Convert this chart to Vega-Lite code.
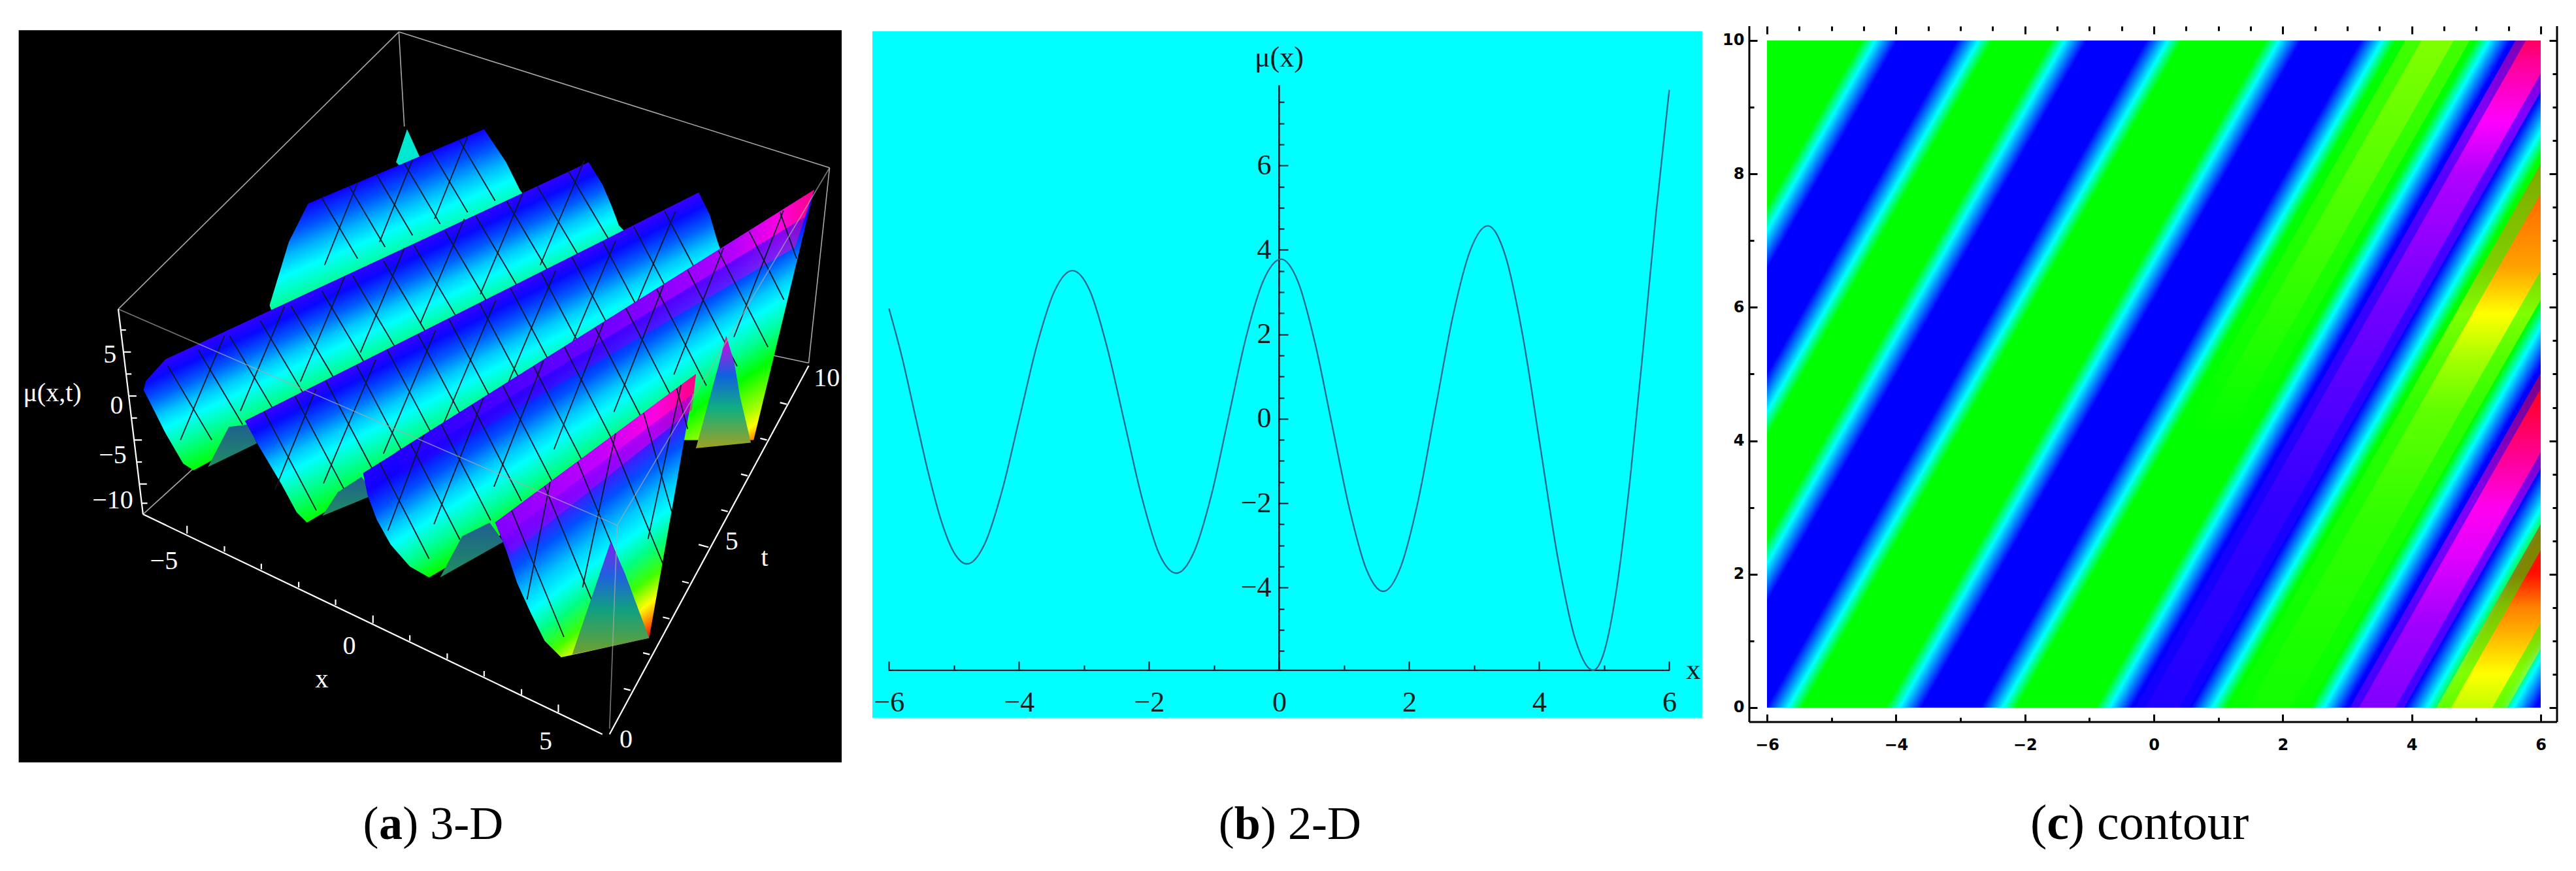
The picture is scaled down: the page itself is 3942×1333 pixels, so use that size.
{"$schema":"https://vega.github.io/schema/vega-lite/v6.json","padding":0,"background":"white","spacing":0,"bounds":"flush","config":{"view":{"stroke":null},"concat":{"spacing":0}},
"datasets":{
"m0":[{"u":585,"v":360,"u2":650,"v2":470},{"u":635,"v":339,"u2":700,"v2":449},{"u":685,"v":318,"u2":750,"v2":428},{"u":735,"v":297,"u2":800,"v2":407},{"u":785,"v":276,"u2":850,"v2":386},{"u":835,"v":255,"u2":900,"v2":365},{"u":650,"v":332,"u2":590,"v2":482},{"u":750,"v":290,"u2":690,"v2":440},{"u":850,"v":248,"u2":790,"v2":398}],
"m1":[{"u":305,"v":665,"u2":385,"v2":800},{"u":361,"v":637,"u2":441,"v2":772},{"u":417,"v":610,"u2":497,"v2":745},{"u":473,"v":583,"u2":553,"v2":718},{"u":529,"v":556,"u2":609,"v2":691},{"u":585,"v":529,"u2":665,"v2":664},{"u":641,"v":501,"u2":721,"v2":636},{"u":697,"v":474,"u2":777,"v2":609},{"u":753,"v":447,"u2":833,"v2":582},{"u":809,"v":420,"u2":889,"v2":555},{"u":865,"v":393,"u2":945,"v2":528},{"u":921,"v":366,"u2":1001,"v2":501},{"u":977,"v":339,"u2":1057,"v2":474},{"u":1033,"v":311,"u2":1113,"v2":446},
{"u":408,"v":610,"u2":328,"v2":800},{"u":517,"v":557,"u2":437,"v2":747},{"u":626,"v":504,"u2":546,"v2":694},{"u":735,"v":451,"u2":655,"v2":641},{"u":844,"v":398,"u2":764,"v2":588},{"u":953,"v":345,"u2":873,"v2":535},{"u":1062,"v":292,"u2":982,"v2":482}],
"m2":[{"u":480,"v":748,"u2":575,"v2":928},{"u":536,"v":720,"u2":631,"v2":900},{"u":592,"v":692,"u2":687,"v2":872},{"u":648,"v":664,"u2":743,"v2":844},{"u":704,"v":636,"u2":799,"v2":816},{"u":760,"v":608,"u2":855,"v2":788},{"u":816,"v":580,"u2":911,"v2":760},{"u":872,"v":552,"u2":967,"v2":732},{"u":928,"v":524,"u2":1023,"v2":704},{"u":984,"v":496,"u2":1079,"v2":676},{"u":1040,"v":468,"u2":1135,"v2":648},{"u":1096,"v":440,"u2":1191,"v2":620},{"u":1152,"v":412,"u2":1247,"v2":592},{"u":1208,"v":384,"u2":1303,"v2":564},
{"u":574,"v":708,"u2":500,"v2":890},{"u":683,"v":654,"u2":588,"v2":879},{"u":792,"v":600,"u2":697,"v2":825},{"u":901,"v":546,"u2":806,"v2":771},{"u":1010,"v":492,"u2":915,"v2":717},{"u":1119,"v":438,"u2":1024,"v2":663},{"u":1228,"v":384,"u2":1133,"v2":609}],
"m3":[{"u":690,"v":841,"u2":780,"v2":1016},{"u":746,"v":806,"u2":836,"v2":981},{"u":802,"v":771,"u2":892,"v2":946},{"u":858,"v":736,"u2":948,"v2":911},{"u":914,"v":701,"u2":1004,"v2":876},{"u":970,"v":666,"u2":1060,"v2":841},{"u":1026,"v":631,"u2":1116,"v2":806},{"u":1082,"v":596,"u2":1172,"v2":771},{"u":1138,"v":561,"u2":1228,"v2":736},{"u":1194,"v":526,"u2":1284,"v2":701},{"u":1250,"v":491,"u2":1340,"v2":666},{"u":1306,"v":456,"u2":1396,"v2":631},{"u":1362,"v":421,"u2":1425,"v2":545},{"u":1418,"v":386,"u2":1448,"v2":470},
{"u":770,"v":791,"u2":705,"v2":965},{"u":879,"v":723,"u2":789,"v2":953},{"u":988,"v":655,"u2":898,"v2":885},{"u":1097,"v":587,"u2":1007,"v2":817},{"u":1206,"v":519,"u2":1116,"v2":749},{"u":1315,"v":451,"u2":1225,"v2":681},{"u":1424,"v":383,"u2":1334,"v2":613}],
"m4":[{"u":930,"v":928,"u2":1025,"v2":1158},{"u":990,"v":884,"u2":1085,"v2":1114},{"u":1050,"v":840,"u2":1145,"v2":1070},{"u":1110,"v":795,"u2":1205,"v2":1025},{"u":1170,"v":751,"u2":1221,"v2":930},{"u":1230,"v":706,"u2":1250,"v2":780},
{"u":1000,"v":876,"u2":958,"v2":1090},{"u":1119,"v":788,"u2":1059,"v2":1068},{"u":1238,"v":700,"u2":1178,"v2":980}],
"boxBack":[
{"u":725,"v":58,"u2":735,"v2":230},{"u":725,"v":58,"u2":215,"v2":562},{"u":725,"v":58,"u2":1508,"v2":305},{"u":1508,"v":305,"u2":1470,"v2":660},{"u":260,"v":935,"u2":480,"v2":735},{"u":1470,"v":660,"u2":1400,"v2":645}
],
"boxFront":[
{"u":215,"v":562,"u2":1122,"v2":955},{"u":1508,"v":305,"u2":1122,"v2":955},{"u":1122,"v":955,"u2":1108,"v2":1325}
],
"axes3d":[
{"u":215,"v":562,"u2":260,"v2":935},{"u":260,"v":935,"u2":1095,"v2":1335},{"u":1108,"v":1335,"u2":1470,"v2":665},
{"u":340,"v":970,"u2":340,"v2":956},{"u":408,"v":1003,"u2":408,"v2":993},{"u":475,"v":1035,"u2":475,"v2":1025},{"u":543,"v":1068,"u2":543,"v2":1058},{"u":610,"v":1100,"u2":610,"v2":1090},{"u":678,"v":1133,"u2":678,"v2":1119},{"u":745,"v":1165,"u2":745,"v2":1155},{"u":813,"v":1198,"u2":813,"v2":1188},{"u":880,"v":1230,"u2":880,"v2":1220},{"u":948,"v":1263,"u2":948,"v2":1253},{"u":1015,"v":1295,"u2":1015,"v2":1281},
{"u":1146,"v":1255,"u2":1134,"v2":1252},{"u":1181,"v":1190,"u2":1169,"v2":1187},{"u":1217,"v":1125,"u2":1205,"v2":1122},{"u":1252,"v":1060,"u2":1240,"v2":1057},{"u":1288,"v":995,"u2":1270,"v2":990},{"u":1323,"v":930,"u2":1311,"v2":927},{"u":1359,"v":865,"u2":1347,"v2":862},{"u":1394,"v":800,"u2":1382,"v2":797},{"u":1430,"v":735,"u2":1418,"v2":732},
{"u":219,"v":600,"u2":229,"v2":600},{"u":224,"v":640,"u2":238,"v2":640},{"u":229,"v":680,"u2":239,"v2":680},{"u":234,"v":720,"u2":248,"v2":720},{"u":239,"v":760,"u2":249,"v2":760},{"u":244,"v":800,"u2":258,"v2":800},{"u":248,"v":840,"u2":258,"v2":840},{"u":253,"v":880,"u2":267,"v2":880},{"u":258,"v":915,"u2":268,"v2":915}
],
"labels3d":[
{"u":298,"v":1020,"s":"−5"},{"u":635,"v":1175,"s":"0"},{"u":585,"v":1235,"s":"x"},{"u":992,"v":1348,"s":"5"},{"u":1138,"v":1345,"s":"0"},{"u":1330,"v":985,"s":"5"},{"u":1390,"v":1015,"s":"t"},{"u":1503,"v":688,"s":"10"},{"u":200,"v":645,"s":"5"},{"u":212,"v":738,"s":"0"},{"u":205,"v":828,"s":"−5"},{"u":205,"v":910,"s":"−10"},{"u":95,"v":715,"s":"μ(x,t)"}
],
"curve":[
{"x":-6,"y":2.61},{"x":-5.8,"y":1.46},{"x":-5.6,"y":0.1},{"x":-5.4,"y":-1.25},{"x":-5.2,"y":-2.4},{"x":-5,"y":-3.17},{"x":-4.8,"y":-3.44},
{"x":-4.53,"y":-2.97},{"x":-4.26,"y":-1.7},{"x":-3.99,"y":0.035},{"x":-3.72,"y":1.77},{"x":-3.45,"y":3.04},{"x":-3.18,"y":3.51},
{"x":-2.91,"y":3.03},{"x":-2.65,"y":1.72},{"x":-2.38,"y":-0.075},{"x":-2.11,"y":-1.87},{"x":-1.85,"y":-3.18},{"x":-1.58,"y":-3.66},
{"x":-1.31,"y":-3.16},{"x":-1.04,"y":-1.8},{"x":-0.775,"y":0.06},{"x":-0.51,"y":1.92},{"x":-0.24,"y":3.28},{"x":0.03,"y":3.78},
{"x":0.29,"y":3.25},{"x":0.55,"y":1.81},{"x":0.815,"y":-0.155},{"x":1.08,"y":-2.12},{"x":1.34,"y":-3.56},{"x":1.6,"y":-4.09},
{"x":1.87,"y":-3.51},{"x":2.14,"y":-1.93},{"x":2.405,"y":0.24},{"x":2.67,"y":2.41},{"x":2.94,"y":3.99},{"x":3.21,"y":4.57},
{"x":3.48,"y":3.86},{"x":3.75,"y":1.94},{"x":4.02,"y":-0.695},{"x":4.29,"y":-3.33},{"x":4.56,"y":-5.25},{"x":4.83,"y":-5.96},
{"x":5,"y":-5.52},{"x":5.2,"y":-3.93},{"x":5.4,"y":-1.4},{"x":5.6,"y":1.68},{"x":5.8,"y":4.91},{"x":6,"y":7.79}
]
},
"hconcat":[
{"width":1320,"height":1333,
"encoding":{"x":{"field":"u","type":"quantitative","scale":{"domain":[0,1568],"nice":false,"zero":false},"axis":null},"y":{"field":"v","type":"quantitative","scale":{"domain":[1583.6,0],"nice":false,"zero":false},"axis":null}},
"layer":[
{"data":{"values":[{"u":34,"u2":1530,"v":55,"v2":1386}]},"mark":{"type":"rect","color":"#000000"},"encoding":{"x2":{"field":"u2"},"y2":{"field":"v2"}}},
{"data":{"name":"boxBack"},"mark":{"type":"rule","color":"#a8a8a8","strokeWidth":1.6},"encoding":{"x2":{"field":"u2"},"y2":{"field":"v2"}}},
{"data":{"values":[{"i":0,"u":720,"v":295},{"i":1,"u":740,"v":235},{"i":2,"u":765,"v":290},{"i":3,"u":745,"v":320}]},"mark":{"type":"line","strokeWidth":0,"fill":"#00e8d0"},"encoding":{"order":{"field":"i"}}},
{"data":{"values":[{"i":0,"u":560,"v":370},{"i":1,"u":525,"v":440},{"i":2,"u":490,"v":555},{"i":3,"u":520,"v":640},{"i":4,"u":1000,"v":420},{"i":5,"u":945,"v":345},{"i":6,"u":920,"v":295},{"i":7,"u":880,"v":235}]},"mark":{"type":"line","strokeWidth":0,"fill":{"gradient":"linear","x1":0.1373,"y1":0.3333,"x2":0.3156,"y2":0.6689,"stops":[{"offset":0,"color":"#1000ff"},{"offset":0.22,"color":"#0050ff"},{"offset":0.45,"color":"#00b8ff"},{"offset":0.65,"color":"#00ffff"},{"offset":1,"color":"#00ff80"}]}},"encoding":{"order":{"field":"i"}}},
{"data":{"name":"m0"},"mark":{"type":"rule","color":"#0a1a2a","strokeWidth":1.8},"encoding":{"x2":{"field":"u2"},"y2":{"field":"v2"}}},
{"data":{"values":[{"i":0,"u":301,"v":653},{"i":1,"u":265,"v":693},{"i":2,"u":261,"v":709},{"i":3,"u":281,"v":748},{"i":4,"u":301,"v":788},{"i":5,"u":333,"v":843},{"i":6,"u":352,"v":855},{"i":7,"u":1140,"v":425},{"i":8,"u":1125,"v":410},{"i":9,"u":1112,"v":375},{"i":10,"u":1095,"v":335},{"i":11,"u":1070,"v":295}]},"mark":{"type":"line","strokeWidth":0,"fill":{"gradient":"linear","x1":0.0455,"y1":0.6393,"x2":0.2375,"y2":0.902,"stops":[{"offset":0,"color":"#3000ff"},{"offset":0.12,"color":"#0808ff"},{"offset":0.28,"color":"#0060ff"},{"offset":0.43,"color":"#00c8ff"},{"offset":0.55,"color":"#00ffff"},{"offset":0.75,"color":"#00ff90"},{"offset":1,"color":"#00ff00"}]}},"encoding":{"order":{"field":"i"}}},
{"data":{"name":"m1"},"mark":{"type":"rule","color":"#0a1a2a","strokeWidth":1.8},"encoding":{"x2":{"field":"u2"},"y2":{"field":"v2"}}},
{"data":{"values":[{"i":0,"u":378,"v":849},{"i":1,"u":416,"v":776},{"i":2,"u":451,"v":772},{"i":3,"u":467,"v":806}]},"mark":{"type":"line","strokeWidth":0,"fill":{"gradient":"linear","x1":0.5,"y1":0,"x2":0.5,"y2":1,"stops":[{"offset":0,"color":"#205f90"},{"offset":1,"color":"#1f8f60"}]}},"encoding":{"order":{"field":"i"}}},
{"data":{"values":[{"i":0,"u":445,"v":765},{"i":1,"u":471,"v":812},{"i":2,"u":511,"v":879},{"i":3,"u":539,"v":931},{"i":4,"u":558,"v":950},{"i":5,"u":1330,"v":490},{"i":6,"u":1315,"v":470},{"i":7,"u":1303,"v":435},{"i":8,"u":1290,"v":390},{"i":9,"u":1270,"v":350}]},"mark":{"type":"line","strokeWidth":0,"fill":{"gradient":"linear","x1":0,"y1":0.6917,"x2":0.1929,"y2":0.9517,"stops":[{"offset":0,"color":"#3800ff"},{"offset":0.12,"color":"#0808ff"},{"offset":0.28,"color":"#0060ff"},{"offset":0.43,"color":"#00c8ff"},{"offset":0.55,"color":"#00ffff"},{"offset":0.75,"color":"#00ff90"},{"offset":1,"color":"#00ff00"}]}},"encoding":{"order":{"field":"i"}}},
{"data":{"name":"m2"},"mark":{"type":"rule","color":"#0a1a2a","strokeWidth":1.8},"encoding":{"x2":{"field":"u2"},"y2":{"field":"v2"}}},
{"data":{"values":[{"i":0,"u":586,"v":938},{"i":1,"u":614,"v":895},{"i":2,"u":657,"v":867},{"i":3,"u":681,"v":899}]},"mark":{"type":"line","strokeWidth":0,"fill":{"gradient":"linear","x1":0.5,"y1":0,"x2":0.5,"y2":1,"stops":[{"offset":0,"color":"#205f90"},{"offset":1,"color":"#1f8f60"}]}},"encoding":{"order":{"field":"i"}}},
{"data":{"values":[{"i":0,"u":660,"v":860},{"i":1,"u":668,"v":900},{"i":2,"u":685,"v":945},{"i":3,"u":710,"v":990},{"i":4,"u":745,"v":1030},{"i":5,"u":780,"v":1050},{"i":6,"u":1200,"v":800},{"i":7,"u":1370,"v":800},{"i":8,"u":1392,"v":709},{"i":9,"u":1414,"v":618},{"i":10,"u":1436,"v":527},{"i":11,"u":1458,"v":436},{"i":12,"u":1480,"v":345}]},"mark":{"type":"line","strokeWidth":0,"fill":{"gradient":"linear","x1":0,"y1":0.7305,"x2":0.2607,"y2":1.0874,"stops":[{"offset":0,"color":"#2000ff"},{"offset":0.1,"color":"#1000ff"},{"offset":0.22,"color":"#0050ff"},{"offset":0.34,"color":"#00c8ff"},{"offset":0.42,"color":"#00ffff"},{"offset":0.55,"color":"#00ff90"},{"offset":0.68,"color":"#00ff00"},{"offset":0.85,"color":"#a0ff00"},{"offset":0.93,"color":"#ffff00"},{"offset":1,"color":"#ff8000"}]}},"encoding":{"order":{"field":"i"}}},
{"data":{"values":[{"i":0,"u":720,"v":822},{"i":1,"u":1480,"v":345},{"i":2,"u":1445,"v":450},{"i":3,"u":730,"v":865}]},"mark":{"type":"line","strokeWidth":0,"opacity":0.5,"fill":{"gradient":"linear","x1":0,"y1":0.5,"x2":1,"y2":0.5,"stops":[{"offset":0,"color":"#2000ff"},{"offset":0.5,"color":"#7000ff"},{"offset":0.8,"color":"#b000ff"},{"offset":0.92,"color":"#ff00e0"},{"offset":1,"color":"#ff0080"}]}},"encoding":{"order":{"field":"i"}}},
{"data":{"values":[{"i":0,"u":720,"v":822},{"i":1,"u":1480,"v":345},{"i":2,"u":1462,"v":395},{"i":3,"u":725,"v":845}]},"mark":{"type":"line","strokeWidth":0,"fill":{"gradient":"linear","x1":0,"y1":0.5,"x2":1,"y2":0.5,"stops":[{"offset":0,"color":"#2000ff"},{"offset":0.5,"color":"#7000ff"},{"offset":0.8,"color":"#b000ff"},{"offset":0.92,"color":"#ff00e0"},{"offset":1,"color":"#ff0080"}]}},"encoding":{"order":{"field":"i"}}},
{"data":{"name":"m3"},"mark":{"type":"rule","color":"#0a1a2a","strokeWidth":1.8},"encoding":{"x2":{"field":"u2"},"y2":{"field":"v2"}}},
{"data":{"values":[{"i":0,"u":800,"v":1050},{"i":1,"u":840,"v":975},{"i":2,"u":890,"v":950},{"i":3,"u":915,"v":985}]},"mark":{"type":"line","strokeWidth":0,"fill":{"gradient":"linear","x1":0.5,"y1":0,"x2":0.5,"y2":1,"stops":[{"offset":0,"color":"#205f90"},{"offset":1,"color":"#1f8f60"}]}},"encoding":{"order":{"field":"i"}}},
{"data":{"values":[{"i":0,"u":1265,"v":815},{"i":1,"u":1310,"v":650},{"i":2,"u":1320,"v":610},{"i":3,"u":1335,"v":660},{"i":4,"u":1345,"v":720},{"i":5,"u":1365,"v":805}]},"mark":{"type":"line","strokeWidth":0,"fill":{"gradient":"linear","x1":0.5,"y1":0,"x2":0.5,"y2":1,"stops":[{"offset":0,"color":"#ff0080"},{"offset":0.12,"color":"#a020e0"},{"offset":0.35,"color":"#1060e0"},{"offset":0.65,"color":"#10b080"},{"offset":1,"color":"#a0a020"}]}},"encoding":{"order":{"field":"i"}}},
{"data":{"values":[{"i":0,"u":900,"v":950},{"i":1,"u":920,"v":1000},{"i":2,"u":940,"v":1060},{"i":3,"u":965,"v":1115},{"i":4,"u":990,"v":1165},{"i":5,"u":1020,"v":1195},{"i":6,"u":1180,"v":1160},{"i":7,"u":1197,"v":1064},{"i":8,"u":1214,"v":968},{"i":9,"u":1231,"v":872},{"i":10,"u":1248,"v":776},{"i":11,"u":1265,"v":680}]},"mark":{"type":"line","strokeWidth":0,"fill":{"gradient":"linear","x1":0,"y1":0.5243,"x2":0.333,"y2":1.1594,"stops":[{"offset":0,"color":"#a000ff"},{"offset":0.12,"color":"#6000ff"},{"offset":0.26,"color":"#0050ff"},{"offset":0.4,"color":"#00c8ff"},{"offset":0.5,"color":"#00ffff"},{"offset":0.62,"color":"#00ff80"},{"offset":0.74,"color":"#40ff00"},{"offset":0.85,"color":"#ffff00"},{"offset":0.93,"color":"#ff8000"},{"offset":1,"color":"#ff0000"}]}},"encoding":{"order":{"field":"i"}}},
{"data":{"values":[{"i":0,"u":900,"v":950},{"i":1,"u":1265,"v":680},{"i":2,"u":1258,"v":745},{"i":3,"u":930,"v":1005}]},"mark":{"type":"line","strokeWidth":0,"opacity":0.5,"fill":{"gradient":"linear","x1":0,"y1":0.5,"x2":1,"y2":0.5,"stops":[{"offset":0,"color":"#8000ff"},{"offset":0.5,"color":"#c000ff"},{"offset":0.8,"color":"#ff00e0"},{"offset":1,"color":"#ff0080"}]}},"encoding":{"order":{"field":"i"}}},
{"data":{"values":[{"i":0,"u":900,"v":950},{"i":1,"u":1265,"v":680},{"i":2,"u":1261,"v":715},{"i":3,"u":915,"v":975}]},"mark":{"type":"line","strokeWidth":0,"fill":{"gradient":"linear","x1":0,"y1":0.5,"x2":1,"y2":0.5,"stops":[{"offset":0,"color":"#8000ff"},{"offset":0.5,"color":"#c000ff"},{"offset":0.8,"color":"#ff00e0"},{"offset":1,"color":"#ff0080"}]}},"encoding":{"order":{"field":"i"}}},
{"data":{"name":"m4"},"mark":{"type":"rule","color":"#0a1a2a","strokeWidth":1.8},"encoding":{"x2":{"field":"u2"},"y2":{"field":"v2"}}},
{"data":{"values":[{"i":0,"u":1040,"v":1190},{"i":1,"u":1110,"v":985},{"i":2,"u":1135,"v":1040},{"i":3,"u":1180,"v":1160}]},"mark":{"type":"line","strokeWidth":0,"fill":{"gradient":"linear","x1":0.5,"y1":0,"x2":0.5,"y2":1,"stops":[{"offset":0,"color":"#8020f0"},{"offset":0.3,"color":"#2060e0"},{"offset":0.6,"color":"#10a080"},{"offset":1,"color":"#70a030"}]}},"encoding":{"order":{"field":"i"}}},
{"data":{"name":"boxFront"},"mark":{"type":"rule","color":"#a8a8a8","strokeWidth":1.6,"opacity":0.7},"encoding":{"x2":{"field":"u2"},"y2":{"field":"v2"}}},
{"data":{"name":"axes3d"},"mark":{"type":"rule","color":"#ffffff","strokeWidth":2.2},"encoding":{"x2":{"field":"u2"},"y2":{"field":"v2"}}},
{"data":{"name":"labels3d"},"mark":{"type":"text","color":"#ffffff","font":"Liberation Serif","fontSize":40,"align":"center","baseline":"middle"},"encoding":{"text":{"field":"s"}}},
{"data":{"values":[{"u":660,"v":1525,"s":"("},{"u":732,"v":1525,"s":") 3-D"}]},"mark":{"type":"text","color":"#000000","font":"Liberation Serif","fontSize":72,"align":"left","baseline":"alphabetic"},"encoding":{"text":{"field":"s"}}},
{"data":{"values":[{"u":689,"v":1525,"s":"a"}]},"mark":{"type":"text","color":"#000000","font":"Liberation Serif","fontWeight":"bold","fontSize":72,"align":"left","baseline":"alphabetic"},"encoding":{"text":{"field":"s"}}}
]},
{"width":1310,"height":1333,
"encoding":{"x":{"field":"x","type":"quantitative","title":null,"scale":{"domain":[-6.406,6.76],"nice":false,"zero":false},"axis":{"orient":"bottom","offset":-307,"domain":false,"grid":false,"zindex":1,"format":"d","values":[-6,-5.5,-5,-4.5,-4,-3.5,-3,-2.5,-2,-1.5,-1,-0.5,0,0.5,1,1.5,2,2.5,3,3.5,4,4.5,5,5.5,6],"labelExpr":"datum.value%2==0?datum.label:''","tickColor":"#101020","tickWidth":2,"tickSize":{"condition":{"test":"datum.value%2==0","value":-14},"value":-8},"labelFont":"Liberation Serif","labelFontSize":44,"labelColor":"#102020","labelPadding":41,"labelOverlap":false,"labelFlush":false}},
"y":{"field":"y","type":"quantitative","title":null,"scale":{"domain":[-10.715,9.92],"nice":false,"zero":false},"axis":{"orient":"left","offset":-637,"domain":false,"grid":false,"zindex":1,"values":[-5.5,-5,-4.5,-4,-3.5,-3,-2.5,-2,-1.5,-1,-0.5,0,0.5,1,1.5,2,2.5,3,3.5,4,4.5,5,5.5,6,6.5,7,7.5],"labelExpr":"datum.value%2==0?format(datum.value,'d'):''","tickColor":"#101020","tickWidth":2,"tickSize":{"condition":{"test":"datum.value%2==0","value":-14},"value":-8},"labelFont":"Liberation Serif","labelFontSize":44,"labelColor":"#102020","labelPadding":26,"labelOverlap":false,"labelFlush":false}}},
"layer":[
{"data":{"values":[{"x":-6.255,"x2":6.507,"y":9.18,"y2":-7.09}]},"mark":{"type":"rect","color":"#00ffff"},"encoding":{"x2":{"field":"x2"},"y2":{"field":"y2"}}},
{"data":{"values":[{"x":-6,"x2":6,"y":-5.96,"y2":-5.96},{"x":0,"x2":0,"y":-5.96,"y2":7.9}]},"mark":{"type":"rule","color":"#101020","strokeWidth":2.4},"encoding":{"x2":{"field":"x2"},"y2":{"field":"y2"}}},
{"data":{"name":"curve"},"mark":{"type":"line","color":"#2a6a90","strokeWidth":2.4,"interpolate":"monotone"}},
{"data":{"values":[{"x":0,"y":8.55,"s":"μ(x)"},{"x":6.37,"y":-5.96,"s":"x"}]},"mark":{"type":"text","color":"#102020","font":"Liberation Serif","fontSize":44,"align":"center","baseline":"middle"},"encoding":{"text":{"field":"s"}}},
{"data":{"values":[{"x":-0.93,"y":-9.957,"s":"("},{"x":-0.285,"y":-9.957,"s":") 2-D"}]},"mark":{"type":"text","color":"#000000","font":"Liberation Serif","fontSize":72,"align":"left","baseline":"alphabetic"},"encoding":{"text":{"field":"s"}}},
{"data":{"values":[{"x":-0.69,"y":-9.957,"s":"b"}]},"mark":{"type":"text","color":"#000000","font":"Liberation Serif","fontWeight":"bold","fontSize":72,"align":"left","baseline":"alphabetic"},"encoding":{"text":{"field":"s"}}}
]},
{"width":1312,"height":1333,
"resolve":{"axis":{"x":"independent","y":"independent"}},
"encoding":{"x":{"field":"x","type":"quantitative","scale":{"domain":[-6.75,6.547],"nice":false,"zero":false},"axis":null},"y":{"field":"t","type":"quantitative","scale":{"domain":[-2.449,10.607],"nice":false,"zero":false},"axis":null}},
"layer":[
{"data":{"values":[{"x":-6,"x2":6,"t":0,"t2":10}]},"mark":{"type":"rect","fill":{"gradient":"linear","x1":0,"y1":0,"x2":1.2,"y2":0.589,"stops":[{"offset":0,"color":"#00ff00"},{"offset":0.0818,"color":"#00ff00"},{"offset":0.0941,"color":"#00ffff"},{"offset":0.1131,"color":"#0000ff"},{"offset":0.1645,"color":"#0000ff"},{"offset":0.1836,"color":"#00ffff"},{"offset":0.1958,"color":"#00ff00"},{"offset":0.2462,"color":"#00ff00"},{"offset":0.2585,"color":"#00ffff"},{"offset":0.2775,"color":"#0000ff"},{"offset":0.3289,"color":"#0000ff"},{"offset":0.3479,"color":"#00ffff"},{"offset":0.3602,"color":"#00ff00"},{"offset":0.4323,"color":"#00ff00"},{"offset":0.4446,"color":"#00ffff"},{"offset":0.4636,"color":"#0000ff"},{"offset":0.515,"color":"#0000ff"},{"offset":0.534,"color":"#00ffff"},{"offset":0.5463,"color":"#00ff00"},{"offset":0.6145,"color":"#00ff00"},{"offset":0.6268,"color":"#00ffff"},{"offset":0.6459,"color":"#0000ff"},{"offset":0.6973,"color":"#0000ff"},{"offset":0.7163,"color":"#00ffff"},{"offset":0.7286,"color":"#00ff00"},{"offset":0.8007,"color":"#00ff00"},{"offset":0.813,"color":"#00ffff"},{"offset":0.832,"color":"#0000ff"},{"offset":0.8834,"color":"#0000ff"},{"offset":0.9024,"color":"#00ffff"},{"offset":0.9147,"color":"#00ff00"},{"offset":0.965,"color":"#00ff00"},{"offset":0.9773,"color":"#00ffff"},{"offset":0.9963,"color":"#0000ff"},{"offset":1,"color":"#0000ff"}]}},"encoding":{"x2":{"field":"x2"},"y2":{"field":"t2"}}},
{"data":{"values":[{"t":4,"x":0.36,"x2":1.36},{"t":10,"x":3.9,"x2":4.9}]},"mark":{"type":"area","orient":"horizontal","clip":true,"opacity":0.5,"fill":{"gradient":"linear","x1":0.5,"y1":1,"x2":0.5,"y2":0,"stops":[{"offset":0,"color":"#00ff00"},{"offset":1,"color":"#80ff00"}]}},"encoding":{"x2":{"field":"x2"}}},
{"data":{"values":[{"t":4,"x":0.61,"x2":1.11},{"t":10,"x":4.15,"x2":4.65}]},"mark":{"type":"area","orient":"horizontal","clip":true,"fill":{"gradient":"linear","x1":0.5,"y1":1,"x2":0.5,"y2":0,"stops":[{"offset":0,"color":"#00ff00"},{"offset":1,"color":"#80ff00"}]}},"encoding":{"x2":{"field":"x2"}}},
{"data":{"values":[{"t":0,"x":1.195,"x2":2.395},{"t":8.15,"x":6,"x2":7.2}]},"mark":{"type":"area","orient":"horizontal","clip":true,"opacity":0.5,"fill":{"gradient":"linear","x1":0.5,"y1":1,"x2":0.5,"y2":0,"stops":[{"offset":0,"color":"#10ff00"},{"offset":0.353,"color":"#30ff00"},{"offset":0.548,"color":"#60ff00"},{"offset":0.636,"color":"#a0ff00"},{"offset":0.724,"color":"#ffff00"},{"offset":0.812,"color":"#ffa000"},{"offset":1,"color":"#ff5000"}]}},"encoding":{"x2":{"field":"x2"}}},
{"data":{"values":[{"t":0,"x":1.455,"x2":2.135},{"t":8.15,"x":6.263,"x2":6.943}]},"mark":{"type":"area","orient":"horizontal","clip":true,"fill":{"gradient":"linear","x1":0.5,"y1":1,"x2":0.5,"y2":0,"stops":[{"offset":0,"color":"#10ff00"},{"offset":0.353,"color":"#30ff00"},{"offset":0.548,"color":"#60ff00"},{"offset":0.636,"color":"#a0ff00"},{"offset":0.724,"color":"#ffff00"},{"offset":0.812,"color":"#ffa000"},{"offset":1,"color":"#ff5000"}]}},"encoding":{"x2":{"field":"x2"}}},
{"data":{"values":[{"t":0,"x":4.38,"x2":5.48},{"t":2.8,"x":6.03,"x2":7.13}]},"mark":{"type":"area","orient":"horizontal","clip":true,"opacity":0.5,"fill":{"gradient":"linear","x1":0.5,"y1":1,"x2":0.5,"y2":0,"stops":[{"offset":0,"color":"#c0ff00"},{"offset":0.18,"color":"#ffff00"},{"offset":0.36,"color":"#ffc000"},{"offset":0.54,"color":"#ff8000"},{"offset":0.714,"color":"#ff1000"},{"offset":1,"color":"#ff0000"}]}},"encoding":{"x2":{"field":"x2"}}},
{"data":{"values":[{"t":0,"x":4.61,"x2":5.25},{"t":2.8,"x":6.26,"x2":6.9}]},"mark":{"type":"area","orient":"horizontal","clip":true,"fill":{"gradient":"linear","x1":0.5,"y1":1,"x2":0.5,"y2":0,"stops":[{"offset":0,"color":"#c0ff00"},{"offset":0.18,"color":"#ffff00"},{"offset":0.36,"color":"#ffc000"},{"offset":0.54,"color":"#ff8000"},{"offset":0.714,"color":"#ff1000"},{"offset":1,"color":"#ff0000"}]}},"encoding":{"x2":{"field":"x2"}}},
{"data":{"values":[{"t":0,"x":-0.29,"x2":0.55},{"t":10,"x":5.61,"x2":6.45}]},"mark":{"type":"area","orient":"horizontal","clip":true,"opacity":0.5,"fill":{"gradient":"linear","x1":0.5,"y1":1,"x2":0.5,"y2":0,"stops":[{"offset":0,"color":"#2000ff"},{"offset":0.3,"color":"#3000ff"},{"offset":0.6,"color":"#7000ff"},{"offset":0.8,"color":"#b000ff"},{"offset":0.88,"color":"#ff00ff"},{"offset":0.96,"color":"#ff00a0"},{"offset":1,"color":"#ff0060"}]}},"encoding":{"x2":{"field":"x2"}}},
{"data":{"values":[{"t":0,"x":-0.13,"x2":0.39},{"t":10,"x":5.77,"x2":6.29}]},"mark":{"type":"area","orient":"horizontal","clip":true,"fill":{"gradient":"linear","x1":0.5,"y1":1,"x2":0.5,"y2":0,"stops":[{"offset":0,"color":"#2000ff"},{"offset":0.3,"color":"#3000ff"},{"offset":0.6,"color":"#7000ff"},{"offset":0.8,"color":"#b000ff"},{"offset":0.88,"color":"#ff00ff"},{"offset":0.96,"color":"#ff00a0"},{"offset":1,"color":"#ff0060"}]}},"encoding":{"x2":{"field":"x2"}}},
{"data":{"values":[{"t":0,"x":3.04,"x2":3.88},{"t":5,"x":5.99,"x2":6.83}]},"mark":{"type":"area","orient":"horizontal","clip":true,"opacity":0.5,"fill":{"gradient":"linear","x1":0.5,"y1":1,"x2":0.5,"y2":0,"stops":[{"offset":0,"color":"#8000ff"},{"offset":0.25,"color":"#a000ff"},{"offset":0.45,"color":"#e000ff"},{"offset":0.6,"color":"#ff00f0"},{"offset":0.76,"color":"#ff0090"},{"offset":1,"color":"#ff0000"}]}},"encoding":{"x2":{"field":"x2"}}},
{"data":{"values":[{"t":0,"x":3.18,"x2":3.74},{"t":5,"x":6.13,"x2":6.69}]},"mark":{"type":"area","orient":"horizontal","clip":true,"fill":{"gradient":"linear","x1":0.5,"y1":1,"x2":0.5,"y2":0,"stops":[{"offset":0,"color":"#8000ff"},{"offset":0.25,"color":"#a000ff"},{"offset":0.45,"color":"#e000ff"},{"offset":0.6,"color":"#ff00f0"},{"offset":0.76,"color":"#ff0090"},{"offset":1,"color":"#ff0000"}]}},"encoding":{"x2":{"field":"x2"}}},
{"data":{"values":[{"x":-6.75,"x2":-6,"t":-2.449,"t2":10.607},{"x":6,"x2":6.547,"t":-2.449,"t2":10.607}]},"mark":{"type":"rect","color":"#ffffff"},"encoding":{"x2":{"field":"x2"},"y2":{"field":"t2"}}},
{"data":{"values":[{"x":-6.274,"x2":-6.274,"t":-0.215,"t2":10.215},{"x":6.253,"x2":6.253,"t":-0.215,"t2":10.215},{"x":-6.274,"x2":6.253,"t":-0.215,"t2":-0.215}]},"mark":{"type":"rule","color":"#000000","strokeWidth":3},"encoding":{"x":{"field":"x","type":"quantitative","title":null,"axis":{"orient":"bottom","offset":-228,"domain":false,"grid":false,"zindex":1,"format":"d","values":[-6,-5.5,-5,-4.5,-4,-3.5,-3,-2.5,-2,-1.5,-1,-0.5,0,0.5,1,1.5,2,2.5,3,3.5,4,4.5,5,5.5,6],"labelExpr":"datum.value%2==0?datum.label:''","tickColor":"#000000","tickWidth":3,"tickSize":{"condition":{"test":"datum.value%2==0","value":-12},"value":-7},"labelFont":"DejaVu Sans","labelFontWeight":"bold","labelFontSize":24,"labelColor":"#000000","labelPadding":35,"labelOverlap":false,"labelFlush":false}},"x2":{"field":"x2"},"y":{"field":"t","type":"quantitative","title":null,"axis":{"orient":"left","offset":-47,"domain":false,"grid":false,"zindex":1,"format":"d","values":[0,0.5,1,1.5,2,2.5,3,3.5,4,4.5,5,5.5,6,6.5,7,7.5,8,8.5,9,9.5,10],"labelExpr":"datum.value%2==0?datum.label:''","tickColor":"#000000","tickWidth":3,"tickSize":{"condition":{"test":"datum.value%2==0","value":-12},"value":-7},"labelFont":"DejaVu Sans","labelFontWeight":"bold","labelFontSize":24,"labelColor":"#000000","labelPadding":20,"labelOverlap":false,"labelFlush":false}},"y2":{"field":"t2"}}},
{"data":{"values":[{"x":-6.274,"x2":6.253,"t":-0.215,"t2":10.215}]},"mark":{"type":"rect","fillOpacity":0,"strokeOpacity":0},"encoding":{"x":{"field":"x","type":"quantitative","title":null,"axis":{"orient":"top","offset":-40,"domain":false,"grid":false,"zindex":1,"labels":false,"values":[-6,-5.5,-5,-4.5,-4,-3.5,-3,-2.5,-2,-1.5,-1,-0.5,0,0.5,1,1.5,2,2.5,3,3.5,4,4.5,5,5.5,6],"tickColor":"#000000","tickWidth":3,"tickSize":{"condition":{"test":"datum.value%2==0","value":-12},"value":-7}}},"x2":{"field":"x2"},"y":{"field":"t","type":"quantitative","title":null,"axis":{"orient":"right","offset":-29,"domain":false,"grid":false,"zindex":1,"labels":false,"values":[0,0.5,1,1.5,2,2.5,3,3.5,4,4.5,5,5.5,6,6.5,7,7.5,8,8.5,9,9.5,10],"tickColor":"#000000","tickWidth":3,"tickSize":{"condition":{"test":"datum.value%2==0","value":-12},"value":-7}}},"y2":{"field":"t2"}}},
{"data":{"values":[{"x":-1.916,"t":-1.969,"s":"("},{"x":-1.33,"t":-1.969,"s":") contour"}]},"mark":{"type":"text","color":"#000000","font":"Liberation Serif","fontSize":76,"align":"left","baseline":"alphabetic"},"encoding":{"text":{"field":"s"}}},
{"data":{"values":[{"x":-1.66,"t":-1.969,"s":"c"}]},"mark":{"type":"text","color":"#000000","font":"Liberation Serif","fontWeight":"bold","fontSize":76,"align":"left","baseline":"alphabetic"},"encoding":{"text":{"field":"s"}}}
]}
]}
